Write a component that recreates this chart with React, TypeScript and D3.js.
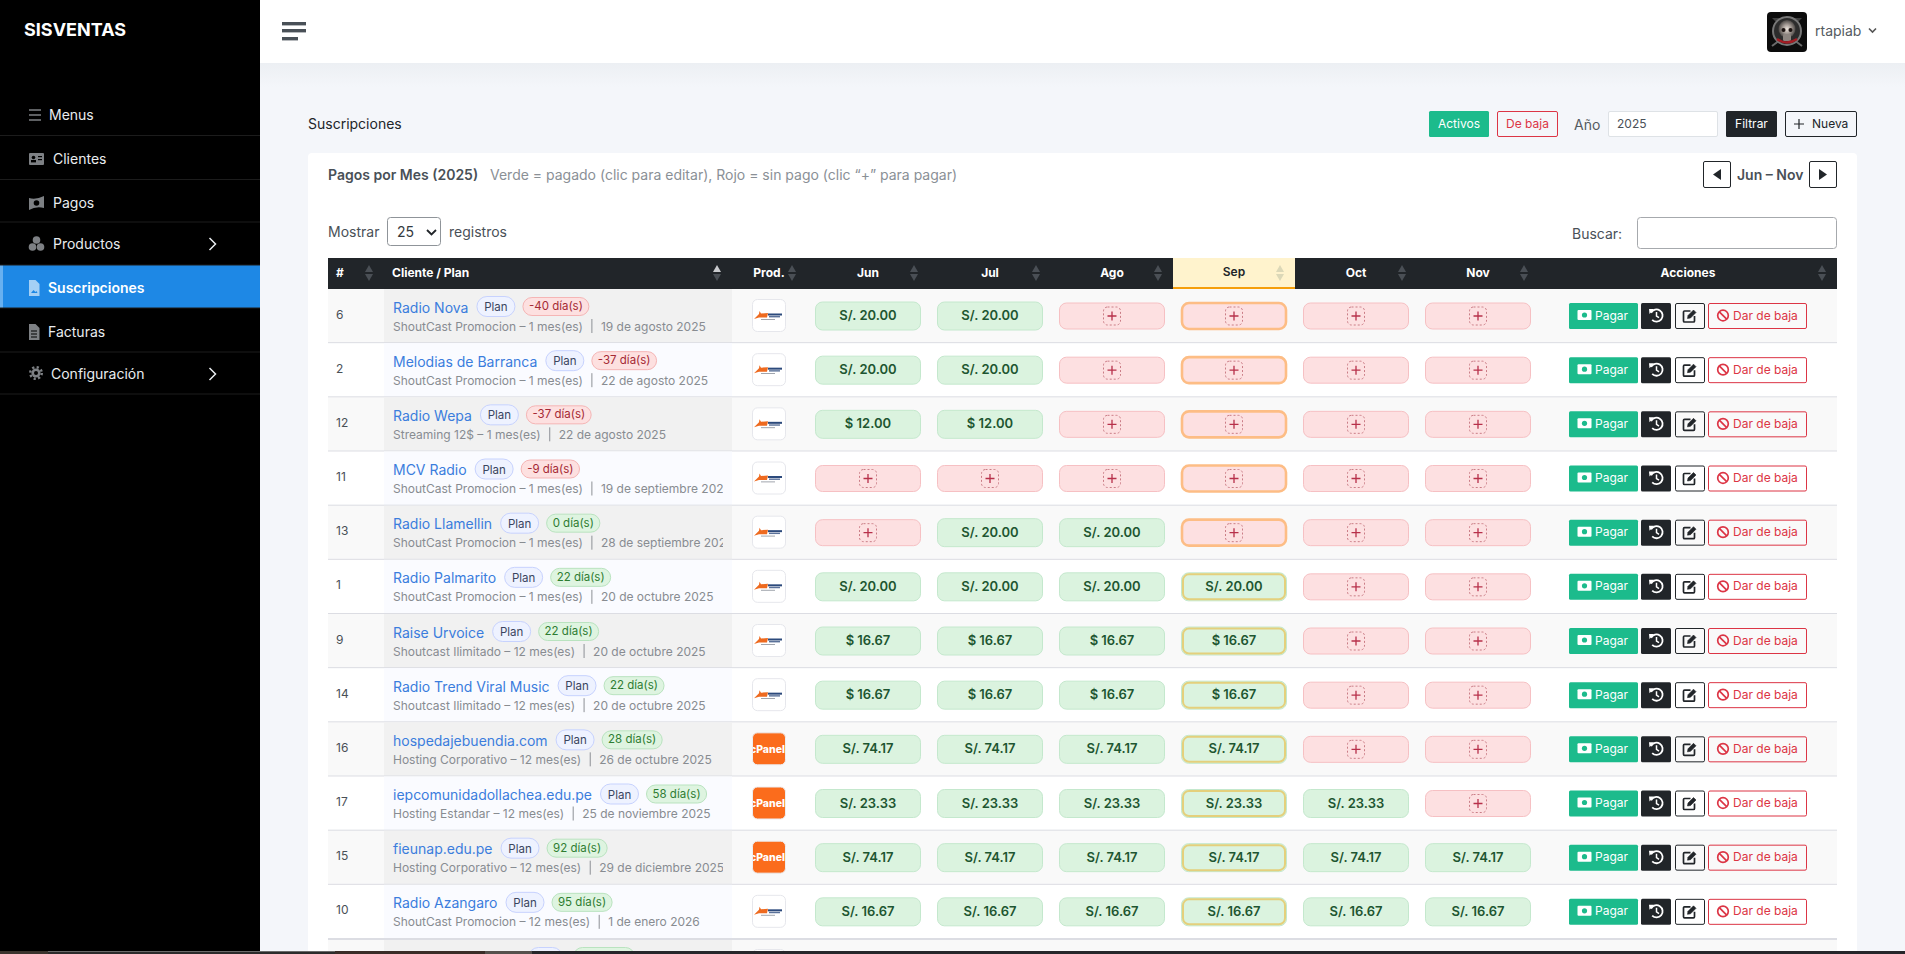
import React from 'react';
import * as d3 from 'd3';

// Data
const months = ['Jun', 'Jul', 'Ago', 'Sep', 'Oct', 'Nov'];
const currentMonth = 'Sep';
const rowIds = ['6', '2', '12', '11', '13', '1', '9', '14', '16', '17', '15', '10'];
const clients = ['Radio Nova', 'Melodias de Barranca', 'Radio Wepa', 'MCV Radio', 'Radio Llamellin', 'Radio Palmarito', 'Raise Urvoice', 'Radio Trend Viral Music', 'hospedajebuendia.com', 'iepcomunidadollachea.edu.pe', 'fieunap.edu.pe', 'Radio Azangaro'];
const plans = [
  'ShoutCast Promocion – 1 mes(es)', 'ShoutCast Promocion – 1 mes(es)', 'Streaming 12$ – 1 mes(es)',
  'ShoutCast Promocion – 1 mes(es)', 'ShoutCast Promocion – 1 mes(es)', 'ShoutCast Promocion – 1 mes(es)',
  'Shoutcast Ilimitado – 12 mes(es)', 'Shoutcast Ilimitado – 12 mes(es)', 'Hosting Corporativo – 12 mes(es)',
  'Hosting Estandar – 12 mes(es)', 'Hosting Corporativo – 12 mes(es)', 'ShoutCast Promocion – 12 mes(es)',
];
const dueDates = ['19 de agosto 2025', '22 de agosto 2025', '22 de agosto 2025', '19 de septiembre 2025', '28 de septiembre 2025', '20 de octubre 2025', '20 de octubre 2025', '20 de octubre 2025', '26 de octubre 2025', '25 de noviembre 2025', '29 de diciembre 2025', '1 de enero 2026'];
const daysLeft = [-40, -37, -37, -9, 0, 22, 22, 22, 28, 58, 92, 95];
const products = ['radio', 'radio', 'radio', 'radio', 'radio', 'radio', 'radio', 'radio', 'cpanel', 'cpanel', 'cpanel', 'radio'];
const currency = ['S/.', 'S/.', '$', 'S/.', 'S/.', 'S/.', '$', '$', 'S/.', 'S/.', 'S/.', 'S/.'];
// one list per row, null = sin pago
const paid: (number | null)[][] = [
  [20, 20, null, null, null, null],
  [20, 20, null, null, null, null],
  [12, 12, null, null, null, null],
  [null, null, null, null, null, null],
  [null, 20, 20, null, null, null],
  [20, 20, 20, 20, null, null],
  [16.67, 16.67, 16.67, 16.67, null, null],
  [16.67, 16.67, 16.67, 16.67, null, null],
  [74.17, 74.17, 74.17, 74.17, null, null],
  [23.33, 23.33, 23.33, 23.33, 23.33, null],
  [74.17, 74.17, 74.17, 74.17, 74.17, 74.17],
  [16.67, 16.67, 16.67, 16.67, 16.67, 16.67],
];
const menuItems = ['Menus', 'Clientes', 'Pagos', 'Productos', 'Suscripciones', 'Facturas', 'Configuración'];
const menuCenters = [115, 159, 203, 244, 288, 332, 374];
const menuTextX = [49, 53, 53, 53, 48, 48, 51];
const menuSeps = [135.5, 179.5, 222, 265, 308, 352, 394];

const FONT = 'Inter, sans-serif';
const W = 1905;
const H = 954;

const x = d3.scaleBand<string>().domain(months).range([807, 1539]);
const rowY = d3.scaleLinear().domain([0, 12]).range([289, 939]);

const ctx = document.createElement('canvas').getContext('2d')!;
const textW = (s: string, font: string) => {
  ctx.font = font;
  return ctx.measureText(s).width;
};

const arcGen = d3.arc();

const Txt = ({ x, y, size = 12, fill = '#495057', weight = 400, anchor = 'start', children }: any) => (
  <text x={x} y={y - 1} fontSize={size} fill={fill} fontWeight={weight} textAnchor={anchor} dominantBaseline="central" fontFamily={FONT}>
    {children}
  </text>
);

const SortArrows = ({ cx, fill = '#4a4f55', upFill }: any) => (
  <g>
    <path d={`M${cx - 4},272 L${cx + 4},272 L${cx},265 Z`} fill={upFill || fill} />
    <path d={`M${cx - 4},274 L${cx + 4},274 L${cx},281 Z`} fill={fill} />
  </g>
);

const MoneyIcon = ({ x, y, fill, hole }: any) => (
  <g>
    <rect x={x} y={y - 5} width={14} height={10} rx={1} fill={fill} />
    <circle cx={x + 7} cy={y} r={2.6} fill={hole} />
  </g>
);

const HistoryIcon = ({ cx, cy }: any) => (
  <g>
    <path
      transform={`translate(${cx},${cy})`}
      d={arcGen({ innerRadius: 5.2, outerRadius: 7, startAngle: -1.1, endAngle: Math.PI * 1.25 }) as string}
      fill="#fff"
    />
    <path d={`M${cx - 7.5},${cy - 6.5} L${cx - 2.5},${cy - 6.5} L${cx - 7},${cy - 1.5} Z`} fill="#fff" />
    <path d={`M${cx},${cy - 3.5} V${cy + 0.5} L${cx + 2.5},${cy + 2.2}`} stroke="#fff" strokeWidth={1.5} fill="none" />
  </g>
);

const EditIcon = ({ cx, cy }: any) => (
  <g stroke="#212529" fill="none">
    <path d={`M${cx + 1},${cy - 5} H${cx - 5} a1,1 0 0 0 -1,1 V${cy + 5} a1,1 0 0 0 1,1 H${cx + 4} a1,1 0 0 0 1,-1 V${cy}`} strokeWidth={1.7} />
    <path d={`M${cx - 2},${cy + 2.5} L${cx - 1.5},${cy - 0.5} L${cx + 4},${cy - 6} L${cx + 6.5},${cy - 3.5} L${cx + 1},${cy + 2} Z`} fill="#212529" strokeWidth={0.6} />
  </g>
);

const BanIcon = ({ cx, cy }: any) => (
  <g stroke="#dc3545" fill="none" strokeWidth={1.7}>
    <circle cx={cx} cy={cy} r={5.3} />
    <path d={`M${cx - 3.7},${cy - 3.7} L${cx + 3.7},${cy + 3.7}`} />
  </g>
);

const Chevron = ({ x, y }: any) => (
  <path d={`M${x},${y - 6} L${x + 6},${y} L${x},${y + 6}`} fill="none" stroke="#e9ecef" strokeWidth={1.5} />
);

const MenuIcon = ({ index, y }: any) => {
  const c = index === 4 ? '#a5d0f5' : '#7d8084';
  switch (index) {
    case 0:
      return <path d={`M29,${y - 5}h12M29,${y}h12M29,${y + 5}h12`} stroke={c} strokeWidth={1.4} />;
    case 1:
      return (
        <g>
          <rect x={29} y={y - 6} width={15} height={12} rx={1} fill={c} />
          <circle cx={33.5} cy={y - 1.5} r={1.8} fill="#000" />
          <rect x={31} y={y + 1} width={5} height={2.4} fill="#000" />
          <rect x={38} y={y - 3} width={4} height={1.2} fill="#000" />
          <rect x={38} y={y} width={4} height={1.2} fill="#000" />
        </g>
      );
    case 2:
      return (
        <g>
          <path d={`M29,${y - 5} Q36,${y - 3} 44,${y - 7} V${y + 5} Q36,${y + 3} 29,${y + 7} Z`} fill={c} />
          <circle cx={36.5} cy={y} r={2.8} fill="#000" />
        </g>
      );
    case 3:
      return (
        <g fill={c}>
          <circle cx={36.5} cy={y - 4} r={3.8} />
          <circle cx={32.5} cy={y + 3} r={3.8} />
          <circle cx={40.5} cy={y + 3} r={3.8} />
        </g>
      );
    case 4:
      return (
        <g>
          <path d={`M29,${y - 8} h6.5 l4,4 V${y + 8} H29 Z`} fill={c} />
          <path d={`M31,${y + 5} l2.5,-3 l2,2 l1,-1 l1,2 Z`} fill="#1e88e5" />
        </g>
      );
    case 5:
      return (
        <g>
          <path d={`M29,${y - 8} h6.5 l4,4 V${y + 8} H29 Z`} fill={c} />
          <path d={`M31,${y - 1}h6M31,${y + 2}h6M31,${y + 5}h6`} stroke="#000" strokeWidth={1} />
        </g>
      );
    default:
      return (
        <g>
          <circle cx={36} cy={y - 1} r={4.6} fill={c} />
          <circle cx={36} cy={y - 1} r={5.8} fill="none" stroke={c} strokeWidth={2.4} strokeDasharray="2.2 2.35" />
          <circle cx={36} cy={y - 1} r={2} fill="#000" />
        </g>
      );
  }
};

const ProductLogo = ({ kind, top, id }: any) => {
  const bx = 752;
  const by = top + 10;
  if (kind === 'cpanel') {
    return (
      <g>
        <clipPath id={id}>
          <rect x={bx + 1} y={by} width={32} height={33} rx={5} />
        </clipPath>
        <rect x={bx + 0.5} y={by + 0.5} width={33} height={32} rx={5} fill="#fb6c1c" stroke="#eceef2" />
        <g clipPath={`url(#${id})`}>
          <text x={bx + 15.5} y={by + 17} fontSize={10.5} fontWeight={800} fill="#fff" textAnchor="middle" dominantBaseline="central" fontFamily={FONT}>
            cPanel
          </text>
        </g>
      </g>
    );
  }
  return (
    <g>
      <rect x={bx + 0.5} y={by + 0.5} width={33} height={32} rx={5} fill="#fff" stroke="#e6e7ec" />
      <path d={`M${bx + 2},${by + 20} L${bx + 7},${by + 15} L${bx + 7.5},${by + 12} L${bx + 9},${by + 14.5} L${bx + 16},${by + 14} L${bx + 15},${by + 18.5} L${bx + 7},${by + 18.5} Z`} fill="#ee6a1f" />
      <rect x={bx + 16} y={by + 14.5} width={14} height={2} fill="#2c4a7c" />
      <rect x={bx + 17} y={by + 17} width={11} height={1.4} fill="#5a7199" />
      <rect x={bx + 9} y={by + 20} width={14} height={0.8} fill="#8a8f99" />
    </g>
  );
};

const MonthPill = ({ month, value, cur, top }: any) => {
  const cx = x(month)! + x.bandwidth() / 2;
  const current = month === currentMonth;
  if (value == null) {
    const py = top + 14;
    const inset = current ? 52 : 52.5;
    return (
      <g>
        <rect x={cx - inset} y={py} width={inset * 2} height={26} rx={7} fill="#fde0e1" stroke={current ? '#fdbd85' : '#f6c0c3'} strokeWidth={current ? 2.6 : 1} />
        <rect x={cx - 8.5} y={py + 4} width={17} height={18} rx={4} fill="none" stroke="#c4727c" strokeWidth={0.9} strokeDasharray="2 2" />
        <path d={`M${cx - 4.5},${py + 13} h9 M${cx},${py + 8.5} v9`} stroke="#b7304a" strokeWidth={1.3} />
      </g>
    );
  }
  const py = top + 13;
  return (
    <g>
      <rect x={cx - 52.5} y={py} width={105} height={28} rx={7} fill="#dbf3df" stroke="#c4e8cd" />
      {current && <rect x={cx - 51} y={py + 1.5} width={102} height={25} rx={6} fill="none" stroke="#e4d07c" strokeWidth={2} />}
      <Txt x={cx} y={top + 27} size={13} fill="#1e5631" weight={600} anchor="middle">
        {`${cur} ${value.toFixed(2)}`}
      </Txt>
    </g>
  );
};

const Actions = ({ top, bg }: any) => {
  const y = top + 14;
  return (
    <g>
      <rect x={1569} y={y} width={69} height={26} rx={1.5} fill="#1cbb8c" />
      <MoneyIcon x={1577.5} y={y + 12} fill="#fff" hole="#1cbb8c" />
      <Txt x={1595} y={y + 13} size={12} fill="#fff">Pagar</Txt>
      <rect x={1641} y={y} width={30} height={26} rx={1.5} fill="#212529" />
      <HistoryIcon cx={1656.5} cy={y + 12.5} />
      <rect x={1675.5} y={y + 0.5} width={29} height={25} rx={1.5} fill={bg} stroke="#212529" />
      <EditIcon cx={1689.5} cy={y + 13} />
      <rect x={1708.5} y={y + 0.5} width={98} height={25} rx={1.5} fill={bg} stroke="#dc3545" />
      <BanIcon cx={1723} cy={y + 12.5} />
      <Txt x={1733} y={y + 13} size={12} fill="#dc3545">Dar de baja</Txt>
    </g>
  );
};

const Row = ({ i }: any) => {
  const top = rowY(i);
  const h = rowY(i + 1) - top;
  const odd = i % 2 === 0;
  const rowBg = odd ? '#f9f9f9' : '#ffffff';
  const cellBg = odd ? '#f1f1f1' : '#fafbff';
  const nameW = textW(clients[i], `14px ${FONT}`);
  const planX = 393 + nameW + 8;
  const dayText = `${daysLeft[i]} día(s)`;
  const dayX = planX + 39 + 7;
  const dayW = textW(dayText, `11.5px ${FONT}`) + 12;
  const neg = daysLeft[i] < 0;
  const planW = textW(plans[i], `12px ${FONT}`);
  const divX = 393 + planW + 8.5;
  return (
    <g>
      <rect x={328} y={top} width={1509} height={h} fill={rowBg} />
      <rect x={384} y={top} width={348} height={h} fill={cellBg} />
      <rect x={328} y={top + h - 1} width={1509} height={2} fill="#dcdde3" />
      <Txt x={336} y={top + 26} size={12}>{rowIds[i]}</Txt>
      <Txt x={393} y={top + 19} size={14} fill="#3b7ddd">{clients[i]}</Txt>
      <rect x={planX + 0.5} y={top + 7.5} width={38} height={20} rx={10} fill="#eef2ff" stroke="#c7d2fe" />
      <Txt x={planX + 19.5} y={top + 19} size={11.5} fill="#3a4560" anchor="middle">Plan</Txt>
      <rect x={dayX + 0.5} y={top + 8.5} width={dayW} height={18} rx={9} fill={neg ? '#fde0e0' : '#def4e0'} stroke={neg ? '#f5b5b5' : '#b9e3bf'} />
      <Txt x={dayX + 0.5 + dayW / 2} y={top + 18} size={11.5} fill={neg ? '#a52a35' : '#2e7d32'} anchor="middle">{dayText}</Txt>
      <clipPath id={`sub-${i}`}>
        <rect x={384} y={top} width={339} height={h} />
      </clipPath>
      <g clipPath={`url(#sub-${i})`}>
        <Txt x={393} y={top + 38} size={12} fill="#888c91">{plans[i]}</Txt>
        <rect x={divX} y={top + 30} width={1} height={14} fill="#8d9096" />
        <Txt x={divX + 9.5} y={top + 38} size={12} fill="#888c91">{dueDates[i]}</Txt>
      </g>
      <ProductLogo kind={products[i]} top={top} id={`logo-${i}`} />
      {months.map((m, k) => (
        <MonthPill key={m} month={m} value={paid[i][k]} cur={currency[i]} top={top} />
      ))}
      <Actions top={top} bg={rowBg} />
    </g>
  );
};

export default function App() {
  const rows = d3.range(rowIds.length);
  return (
    <svg width={W} height={H} viewBox={`0 0 ${W} ${H}`} style={{ position: 'fixed', left: 0, top: 0, display: 'block' }}>
      <defs>
        <linearGradient id="topShadow" x1="0" x2="0" y1="0" y2="1">
          <stop offset="0" stopColor="#eceff3" />
          <stop offset="1" stopColor="#f4f6fa" />
        </linearGradient>
        <radialGradient id="skull">
          <stop offset="0" stopColor="#efe6df" />
          <stop offset="0.5" stopColor="#a39a94" />
          <stop offset="1" stopColor="#4a4644" />
        </radialGradient>
      </defs>

      <rect width={W} height={H} fill="#f4f6fa" />

      {/* top bar */}
      <rect x={260} y={63} width={W - 260} height={24} fill="url(#topShadow)" />
      <rect x={260} y={0} width={W - 260} height={63} fill="#fff" />
      <rect x={282} y={22} width={24} height={3.4} fill="#495057" />
      <rect x={282} y={29} width={24} height={3.4} fill="#495057" />
      <rect x={282} y={37} width={16} height={3.4} fill="#495057" />
      <rect x={1767} y={12} width={40} height={40} rx={4} fill="#0c0c0c" />
      <path d="M1772,18 L1802,18 L1796,24 H1778 Z" fill="#3f3f3f" />
      <path d="M1772,46 L1780,40 M1802,46 L1794,40" stroke="#6a6a6a" strokeWidth={2} />
      <circle cx={1787} cy={31} r={14} fill="#2c2c2c" stroke="#777" strokeWidth={2} />
      <ellipse cx={1787} cy={29} rx={8.5} ry={9} fill="url(#skull)" />
      <rect x={1783} y={34} width={8} height={7} rx={1.5} fill="#8d8580" />
      <path d="M1777,39 Q1787,46 1797,39" fill="none" stroke="#a51d24" strokeWidth={2.4} />
      <circle cx={1783.5} cy={30} r={2} fill="#1a1210" />
      <circle cx={1790.5} cy={30} r={2} fill="#1a1210" />
      <Txt x={1815} y={31.5} size={14} fill="#555b61">rtapiab</Txt>
      <path d="M1869,28.5 L1872.5,32 L1876,28.5" fill="none" stroke="#555" strokeWidth={1.6} />

      {/* sidebar */}
      <rect x={0} y={0} width={260} height={H} fill="#000" />
      <Txt x={24} y={30} size={18} fill="#fff" weight={700}>SISVENTAS</Txt>
      <rect x={0} y={265} width={260} height={43} fill="#1e88e5" />
      <rect x={0} y={265} width={3} height={43} fill="#67b0f0" />
      {menuSeps.map((s) => (
        <rect key={s} x={0} y={s - 0.5} width={260} height={1} fill="#1c1c1c" />
      ))}
      {menuItems.map((m, i) => (
        <g key={m}>
          <MenuIcon index={i} y={menuCenters[i]} />
          <Txt x={menuTextX[i]} y={menuCenters[i]} size={14} fill={i === 4 ? '#fff' : '#e9ecef'} weight={i === 4 ? 600 : 400}>{m}</Txt>
        </g>
      ))}
      <Chevron x={209.5} y={244} />
      <Chevron x={209.5} y={374} />

      {/* page head */}
      <Txt x={308} y={124} size={14} fill="#212529">Suscripciones</Txt>
      <rect x={1429} y={111} width={60} height={26} rx={1.5} fill="#1cbb8c" />
      <Txt x={1459} y={124} size={12} fill="#fff" anchor="middle">Activos</Txt>
      <rect x={1497.5} y={111.5} width={60} height={25} rx={1.5} fill="none" stroke="#dc3545" />
      <Txt x={1527.5} y={124} size={12} fill="#dc3545" anchor="middle">De baja</Txt>
      <Txt x={1574} y={125} size={14} fill="#555b61">Año</Txt>
      <rect x={1608.5} y={111.5} width={109} height={25} rx={1.5} fill="#fff" stroke="#dee2e6" />
      <Txt x={1617} y={124} size={12} fill="#495057">2025</Txt>
      <rect x={1726} y={111} width={51} height={26} rx={1.5} fill="#212529" />
      <Txt x={1751.5} y={124} size={12} fill="#fff" anchor="middle">Filtrar</Txt>
      <rect x={1785.5} y={111.5} width={71} height={25} rx={1.5} fill="none" stroke="#212529" />
      <path d="M1794,124 h10 M1799,119 v10" stroke="#212529" strokeWidth={1.2} />
      <Txt x={1812} y={124} size={12} fill="#212529">Nueva</Txt>

      {/* card */}
      <rect x={308} y={153} width={1549} height={H - 153} rx={4} fill="#fff" />
      <Txt x={328} y={175} size={14} fill="#495057" weight={600}>Pagos por Mes (2025)</Txt>
      <Txt x={490} y={175} size={14} fill="#8a9096">Verde = pagado (clic para editar), Rojo = sin pago (clic “+” para pagar)</Txt>
      <rect x={1703.5} y={161.5} width={27} height={26} rx={1.5} fill="#fff" stroke="#212529" />
      <path d="M1721,169 V180 L1713,174.5 Z" fill="#212529" />
      <Txt x={1737} y={175} size={14} fill="#495057" weight={600}>Jun – Nov</Txt>
      <rect x={1809.5} y={161.5} width={27} height={26} rx={1.5} fill="#fff" stroke="#212529" />
      <path d="M1819,169 V180 L1827,174.5 Z" fill="#212529" />

      <Txt x={328} y={232} size={14}>Mostrar</Txt>
      <rect x={387.5} y={217.5} width={53} height={28} rx={3} fill="#fff" stroke="#8f9499" />
      <Txt x={397} y={232} size={14} fill="#343a40">25</Txt>
      <path d="M427,230 L431.5,234.5 L436,230" fill="none" stroke="#212529" strokeWidth={1.8} />
      <Txt x={449} y={232} size={14}>registros</Txt>
      <Txt x={1572} y={234} size={14}>Buscar:</Txt>
      <rect x={1637.5} y={217.5} width={199} height={31} rx={3} fill="#fff" stroke="#a6a9ad" />

      {/* table head */}
      <rect x={328} y={258} width={1509} height={31} fill="#212529" />
      <rect x={x('Sep')!} y={258} width={x.bandwidth()} height={29.5} fill="#fff3cd" />
      <rect x={x('Sep')!} y={287} width={x.bandwidth()} height={2.6} fill="#f59e0b" />
      <Txt x={336} y={273} size={12} fill="#fff" weight={700}>#</Txt>
      <SortArrows cx={369} />
      <Txt x={392} y={273} size={12} fill="#fff" weight={700}>Cliente / Plan</Txt>
      <SortArrows cx={717} upFill="#c9cbce" />
      <Txt x={769} y={273} size={12} fill="#fff" weight={700} anchor="middle">Prod.</Txt>
      <SortArrows cx={792} />
      {months.map((m) => {
        const cx = x(m)! + x.bandwidth() / 2;
        const on = m === currentMonth;
        return (
          <g key={m}>
            <Txt x={cx} y={on ? 272.5 : 273} size={12} fill={on ? '#212529' : '#fff'} weight={on ? 600 : 700} anchor="middle">{m}</Txt>
            <SortArrows cx={cx + 46} fill={on ? '#dcd8b8' : '#4a4f55'} />
          </g>
        );
      })}
      <Txt x={1688} y={273} size={12} fill="#fff" weight={700} anchor="middle">Acciones</Txt>
      <SortArrows cx={1822} />

      {rows.map((i) => (
        <Row key={i} i={i} />
      ))}

      {/* next row, only its top edge shows above the strip */}
      <rect x={328} y={940} width={1509} height={14} fill="#f9f9f9" />
      <rect x={384} y={940} width={348} height={14} fill="#f1f1f1" />
      <rect x={528.5} y={947.5} width={34} height={20} rx={10} fill="#eef2ff" stroke="#c7d2fe" />
      <rect x={573.5} y={947.5} width={61} height={20} rx={9} fill="#def4e0" stroke="#b9e3bf" />
      <rect x={752.5} y={949.5} width={33} height={20} rx={5} fill="#fff" stroke="#e6e7ec" />

      {/* what is behind the browser window */}
      <rect x={0} y={951} width={W} height={3} fill="#26262a" />
      <rect x={0} y={951} width={48} height={3} fill="#3b342e" />
      <rect x={48} y={951} width={287} height={3} fill="#2b2b2b" />
      <rect x={48} y={951} width={287} height={1} fill="#6a6a6a" />
      <rect x={335} y={951} width={150} height={3} fill="#3a2c27" />
      <rect x={485} y={951} width={47} height={3} fill="#55504c" />
    </svg>
  );
}
